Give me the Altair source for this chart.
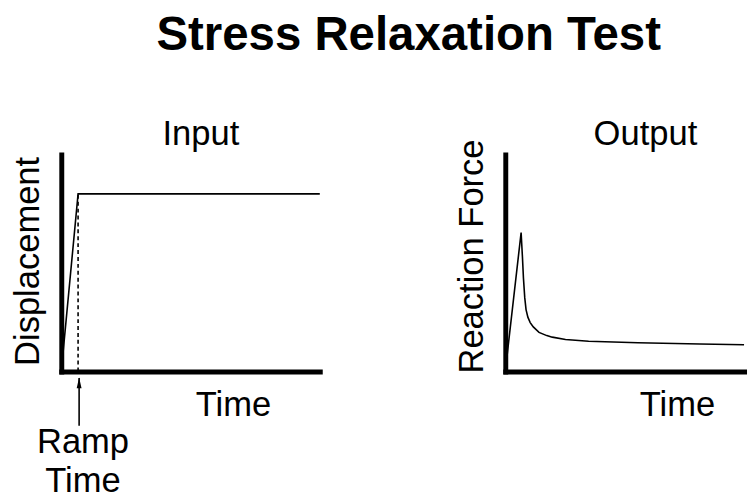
import altair as alt
import pandas as pd

FONT = "Liberation Sans"

# Input (displacement) curve
input_time = [0.0, 0.65, 10.0]
input_disp = [0.0, 0.818, 0.818]
ramp_time = 0.65
ramp_level = 0.818

# Output (reaction force) curve
output_time = [0.0, 0.61, 0.66, 0.70, 0.75, 0.80, 0.87, 0.96, 1.08, 1.30, 1.60, 1.81, 2.32, 3.21, 5.11, 7.5, 9.2]
output_force = [0.0, 0.64, 0.53, 0.43, 0.34, 0.285, 0.25, 0.225, 0.205, 0.18, 0.165, 0.158, 0.147, 0.139, 0.132, 0.126, 0.123]

# Panel titles (placed above each plot)
panel_titles = ["Input", "Output"]
panel_title_x = 5.4
panel_title_y = 1.045

# Ramp-time annotation (arrow + label, in data units below the axis)
arrow_x = 0.69
arrow_top = -0.03
arrow_bottom = -0.25
label_x = 0.84
label_y = -0.375
label_text = "Ramp\nTime"

in_df = pd.DataFrame({"t": input_time, "v": input_disp})
out_df = pd.DataFrame({"t": output_time, "v": output_force})
dash_df = pd.DataFrame({"t": [ramp_time], "y0": [0.0], "y1": [ramp_level]})
arrow_df = pd.DataFrame({"t": [arrow_x], "y0": [arrow_top], "y1": [arrow_bottom]})
label_df = pd.DataFrame({"t": [label_x], "y": [label_y], "label": [label_text]})


def axes(title_y, title_x_label, xmax, ytitle_pos):
    x = alt.X("t:Q", scale=alt.Scale(domain=[0, xmax], nice=False, zero=True),
              axis=alt.Axis(title=title_x_label, labels=False, ticks=False, grid=False,
                            domainWidth=5, domainColor="black", domainCap="square",
                            titleFont=FONT, titleFontSize=35, titleFontWeight="normal",
                            titleX=174, titleY=34, titleBaseline="middle", titleAlign="center",
                            titleColor="black"))
    y = alt.Y("v:Q", scale=alt.Scale(domain=[0, 1], nice=False),
              axis=alt.Axis(title=title_y, labels=False, ticks=False, grid=False,
                            domainWidth=5, domainColor="black", domainCap="square",
                            titleFont=FONT, titleFontSize=35, titleFontWeight="normal",
                            titleX=-34, titleY=ytitle_pos, titleBaseline="middle",
                            titleAlign="center", titleAngle=270, titleColor="black"))
    return x, y


def panel_title(text):
    df = pd.DataFrame({"t": [panel_title_x], "v": [panel_title_y], "label": [text]})
    return alt.Chart(df).mark_text(
        font=FONT, fontSize=35, baseline="alphabetic", align="center", color="black",
        clip=False).encode(x="t:Q", y="v:Q", text="label:N")


xi, yi = axes("Displacement", "Time", 10, 108)
left_line = alt.Chart(in_df).mark_line(color="black", strokeWidth=1.6).encode(x=xi, y=yi)
left_dash = alt.Chart(dash_df).mark_rule(color="black", strokeWidth=1.6, strokeDash=[4, 3]).encode(
    x="t:Q", y="y0:Q", y2="y1:Q")
left_arrow = alt.Chart(arrow_df).mark_rule(color="black", strokeWidth=1.6, clip=False).encode(
    x="t:Q", y="y0:Q", y2="y1:Q")
left_head = alt.Chart(arrow_df).mark_point(
    shape="M0,-1L0.45,1L-0.45,1Z", filled=True, color="black", size=120, opacity=1, clip=False,
    yOffset=5).encode(x="t:Q", y="y0:Q")
left_label = alt.Chart(label_df).mark_text(
    font=FONT, fontSize=35, lineBreak="\n", lineHeight=40, baseline="alphabetic",
    align="center", color="black", clip=False).encode(x="t:Q", y="y:Q", text="label:N")

left = alt.layer(left_line, left_dash, left_arrow, left_head, left_label,
                 panel_title(panel_titles[0])).properties(width=262, height=220)

xo, yo = axes("Reaction Force", "Time", 9.2, 103)
right_line = alt.Chart(out_df).mark_line(color="black", strokeWidth=1.6).encode(x=xo, y=yo)
right = alt.layer(right_line, panel_title(panel_titles[1])).properties(width=242, height=220)

chart = alt.hconcat(left, right, spacing=132).properties(
    padding={"left": 2, "top": 1, "right": 0, "bottom": 0},
    title=alt.TitleParams("Stress Relaxation Test", font=FONT, fontSize=48, fontWeight="bold",
                          anchor="middle", dx=30, offset=58, color="black"),
    background="white",
).configure_view(stroke=None)

chart.save("out.html", embed_options={"renderer": "svg", "actions": False})
